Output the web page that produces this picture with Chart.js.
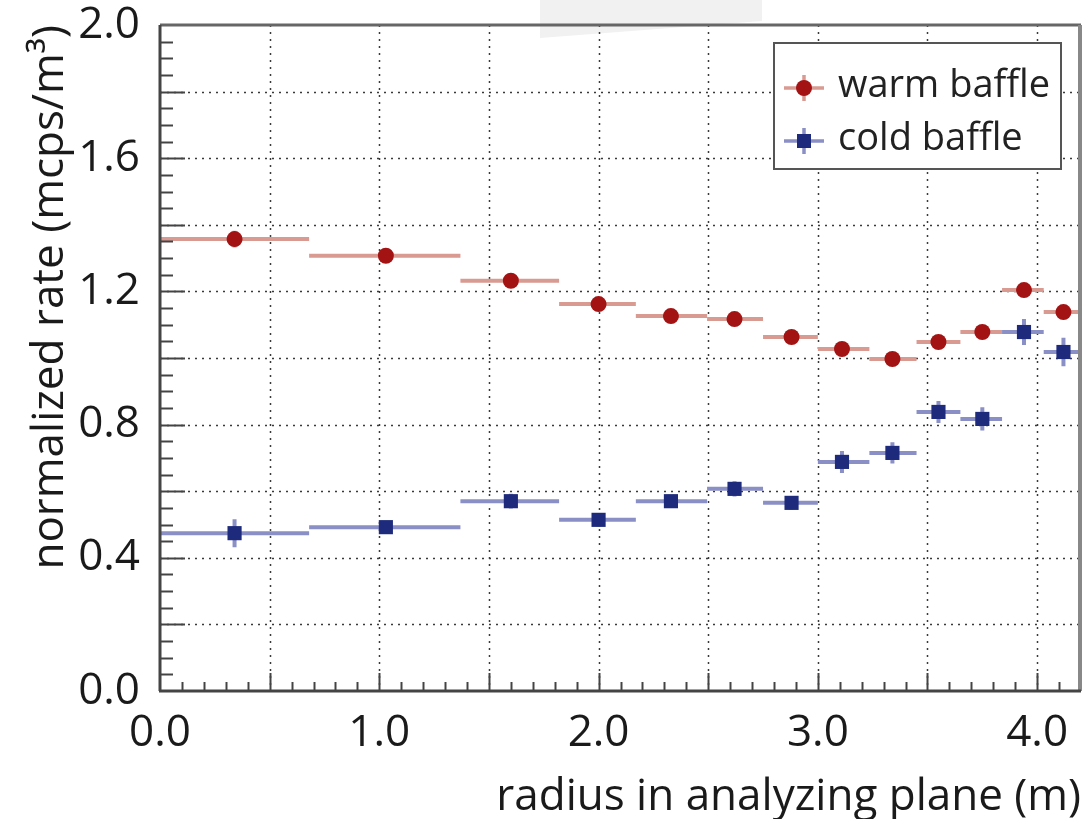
<!DOCTYPE html>
<html>
<head>
<meta charset="utf-8">
<script src="https://cdn.jsdelivr.net/npm/chart.js@4.4.1/dist/chart.umd.min.js"></script>
<style>
html, body { margin: 0; padding: 0; background: #fff; }
#wrap { position: relative; width: 1091px; height: 819px; }
#smudge { position: absolute; left: 540px; top: 0; width: 222px; height: 38px; background: #f1f1f1;
  clip-path: polygon(0 0, 100% 0, 100% 55%, 0 100%); }
canvas { position: absolute; left: 0; top: 0; }
</style>
</head>
<body>
<div id="wrap">
<div id="smudge"></div>
<canvas id="chart" width="1091" height="819"></canvas>
</div>
<script>
// bins in radius (m)
var binLow  = [0.00, 0.68, 1.37, 1.82, 2.17, 2.495, 2.75, 3.00, 3.235, 3.45, 3.65, 3.84, 4.03];
var binHigh = [0.68, 1.37, 1.82, 2.17, 2.495, 2.75, 3.00, 3.235, 3.45, 3.65, 3.84, 4.03, 4.20];
var radius  = [0.34, 1.03, 1.60, 2.00, 2.33, 2.62, 2.88, 3.11, 3.34, 3.55, 3.75, 3.94, 4.12];

// normalized rate (mcps/m3)
var warmRate = [1.357, 1.307, 1.232, 1.162, 1.126, 1.117, 1.063, 1.027, 0.997, 1.048, 1.078, 1.204, 1.138];
var warmErr  = [0.025, 0.012, 0.012, 0.012, 0.012, 0.012, 0.012, 0.012, 0.012, 0.012, 0.014, 0.014, 0.016];
var coldRate = [0.474, 0.492, 0.570, 0.514, 0.570, 0.607, 0.565, 0.688, 0.715, 0.838, 0.817, 1.078, 1.018];
var coldErr  = [0.042, 0.018, 0.022, 0.020, 0.018, 0.023, 0.020, 0.033, 0.032, 0.033, 0.035, 0.039, 0.043];

// axes
var xGrid = [0, 0.5, 1, 1.5, 2, 2.5, 3, 3.5, 4];
var xTickValues = [0, 1, 2, 3, 4];
var xTickLabels = ['0.0', '1.0', '2.0', '3.0', '4.0'];
var yGrid = [0, 0.2, 0.4, 0.6, 0.8, 1.0, 1.2, 1.4, 1.6, 1.8, 2.0];
var yTickValues = [0, 0.4, 0.8, 1.2, 1.6, 2.0];
var yTickLabels = ['0.0', '0.4', '0.8', '1.2', '1.6', '2.0'];

var FONT = '"Open Sans", "DejaVu Sans", sans-serif';

function points(rate, err) {
	return radius.map(function(r, i) {
		return { x: r, y: rate[i], e: err[i], xlo: binLow[i], xhi: binHigh[i] };
	});
}

function labelFor(values, labels, v) {
	for (var i = 0; i < values.length; i++) {
		if (Math.abs(values[i] - v) < 1e-6) return labels[i];
	}
	return '';
}

var gridPlugin = {
	id: 'rootGrid',
	beforeDatasetsDraw: function(chart) {
		var ctx = chart.ctx, xs = chart.scales.x, ys = chart.scales.y, a = chart.chartArea;
		ctx.save();
		ctx.strokeStyle = '#3a3a3a';
		ctx.lineWidth = 1.5;
		ctx.setLineDash([2, 5]);
		xGrid.forEach(function(v) {
			var px = Math.round(xs.getPixelForValue(v)) + 0.5;
			if (v <= 0) return;
			ctx.beginPath(); ctx.moveTo(px, a.top); ctx.lineTo(px, a.bottom); ctx.stroke();
		});
		yGrid.forEach(function(v) {
			var py = Math.round(ys.getPixelForValue(v)) + 0.5;
			if (v <= 0 || v >= 2) return;
			ctx.beginPath(); ctx.moveTo(a.left, py); ctx.lineTo(a.right, py); ctx.stroke();
		});
		ctx.restore();
	}
};

var errorBarPlugin = {
	id: 'errorBars',
	beforeDatasetsDraw: function(chart) {
		var ctx = chart.ctx, xs = chart.scales.x, ys = chart.scales.y;
		chart.data.datasets.forEach(function(ds) {
			ctx.save();
			ctx.strokeStyle = ds.barColor;
			ctx.lineWidth = 4;
			ds.data.forEach(function(p) {
				var py = ys.getPixelForValue(p.y), px = xs.getPixelForValue(p.x);
				ctx.beginPath();
				ctx.moveTo(xs.getPixelForValue(p.xlo), py);
				ctx.lineTo(xs.getPixelForValue(p.xhi), py);
				ctx.moveTo(px, ys.getPixelForValue(p.y - p.e));
				ctx.lineTo(px, ys.getPixelForValue(p.y + p.e));
				ctx.stroke();
			});
			ctx.restore();
		});
	}
};

var framePlugin = {
	id: 'rootFrame',
	afterDatasetsDraw: function(chart) {
		var ctx = chart.ctx, xs = chart.scales.x, ys = chart.scales.y, a = chart.chartArea;
		ctx.save();
		// minor / major ticks, drawn inward
		ctx.strokeStyle = '#444';
		ctx.lineWidth = 2;
		var i, v, p;
		for (i = 1; i <= 41; i++) {
			v = i / 10;
			p = Math.round(xs.getPixelForValue(v)) + 0.5;
			var len = (i % 5 === 0) ? 18 : 9;
			ctx.beginPath(); ctx.moveTo(p, a.bottom); ctx.lineTo(p, a.bottom - len); ctx.stroke();
		}
		for (i = 1; i < 40; i++) {
			v = i / 20;
			p = Math.round(ys.getPixelForValue(v)) + 0.5;
			var len2 = (i % 4 === 0) ? 25 : 13;
			ctx.beginPath(); ctx.moveTo(a.left, p); ctx.lineTo(a.left + len2, p); ctx.stroke();
		}
		// frame
		ctx.strokeStyle = '#666';
		ctx.lineWidth = 3;
		ctx.beginPath(); ctx.moveTo(a.left, a.top); ctx.lineTo(a.right, a.top); ctx.stroke();
		ctx.strokeStyle = '#888';
		ctx.lineWidth = 4;
		ctx.beginPath(); ctx.moveTo(a.right - 1, a.top); ctx.lineTo(a.right - 1, a.bottom); ctx.stroke();
		ctx.strokeStyle = '#444';
		ctx.lineWidth = 3;
		ctx.beginPath(); ctx.moveTo(a.left, a.top); ctx.lineTo(a.left, a.bottom); ctx.stroke();
		ctx.beginPath(); ctx.moveTo(a.left - 1, a.bottom); ctx.lineTo(a.right, a.bottom); ctx.stroke();
		ctx.restore();
	}
};

var legendPlugin = {
	id: 'rootLegend',
	afterDraw: function(chart) {
		var ctx = chart.ctx;
		var box = { x: 774, y: 43, w: 287, h: 126 };
		ctx.save();
		ctx.fillStyle = '#fff';
		ctx.fillRect(box.x, box.y, box.w, box.h);
		ctx.strokeStyle = '#555';
		ctx.lineWidth = 2;
		ctx.strokeRect(box.x, box.y, box.w, box.h);
		chart.data.datasets.forEach(function(ds, i) {
			var cy = box.y + 45 + i * 53, cx = box.x + 30;
			ctx.strokeStyle = ds.barColor;
			ctx.lineWidth = 3.5;
			ctx.beginPath();
			ctx.moveTo(cx - 20, cy); ctx.lineTo(cx + 20, cy);
			ctx.moveTo(cx, cy - 13); ctx.lineTo(cx, cy + 13);
			ctx.stroke();
			ctx.fillStyle = ds.pointBackgroundColor;
			if (ds.pointStyle === 'rect') {
				ctx.fillRect(cx - 7, cy - 7, 14, 14);
			} else {
				ctx.beginPath(); ctx.arc(cx, cy, 8, 0, Math.PI * 2); ctx.fill();
			}
			ctx.fillStyle = '#222';
			ctx.font = '38px ' + FONT;
			ctx.textBaseline = 'middle';
			ctx.fillText(ds.label, box.x + 64, cy - 2);
		});
		ctx.restore();
	}
};

new Chart(document.getElementById('chart'), {
	type: 'scatter',
	data: {
		datasets: [{
			label: 'warm baffle',
			data: points(warmRate, warmErr),
			pointStyle: 'circle',
			pointRadius: 8,
			pointBackgroundColor: '#a31313',
			pointBorderWidth: 0,
			barColor: '#d99a92'
		}, {
			label: 'cold baffle',
			data: points(coldRate, coldErr),
			pointStyle: 'rect',
			pointRadius: 10,
			pointBackgroundColor: '#1e2a7c',
			pointBorderWidth: 0,
			barColor: '#8a90c6'
		}]
	},
	options: {
		responsive: false,
		animation: false,
		layout: { padding: { left: 0, right: 6, top: 25, bottom: 0 } },
		plugins: { legend: { display: false }, tooltip: { enabled: false } },
		scales: {
			x: {
				type: 'linear', min: 0, max: 4.2,
				afterBuildTicks: function(s) { s.ticks = xGrid.map(function(v) { return { value: v }; }); },
				afterFit: function(s) { s.height = 128; },
				grid: { display: false },
				border: { display: false },
				ticks: {
					autoSkip: false, maxRotation: 0, padding: 12, color: '#1a1a1a',
					font: { family: FONT, size: 44, lineHeight: 1.0 },
					callback: function(v) { return labelFor(xTickValues, xTickLabels, v); }
				},
				title: {
					display: true, text: 'radius in analyzing plane (m)', align: 'end', color: '#1a1a1a',
					font: { family: FONT, size: 44, lineHeight: 1.0 }, padding: { top: 0, bottom: 0 }
				}
			},
			y: {
				type: 'linear', min: 0, max: 2.0,
				afterBuildTicks: function(s) { s.ticks = yGrid.map(function(v) { return { value: v }; }); },
				afterFit: function(s) { s.width = 160; s.paddingTop = 0; s.paddingBottom = 0; },
				grid: { display: false },
				border: { display: false },
				ticks: {
					autoSkip: false, padding: 12, color: '#1a1a1a',
					font: { family: FONT, size: 44, lineHeight: 0.5 },
					callback: function(v) { return labelFor(yTickValues, yTickLabels, v); }
				},
				title: {
					display: true, text: 'normalized rate (mcps/m³)', align: 'end', color: '#1a1a1a',
					font: { family: FONT, size: 44, lineHeight: 1.0 }, padding: { top: 28, bottom: 0 }
				}
			}
		}
	},
	plugins: [gridPlugin, errorBarPlugin, framePlugin, legendPlugin]
});
</script>
</body>
</html>
